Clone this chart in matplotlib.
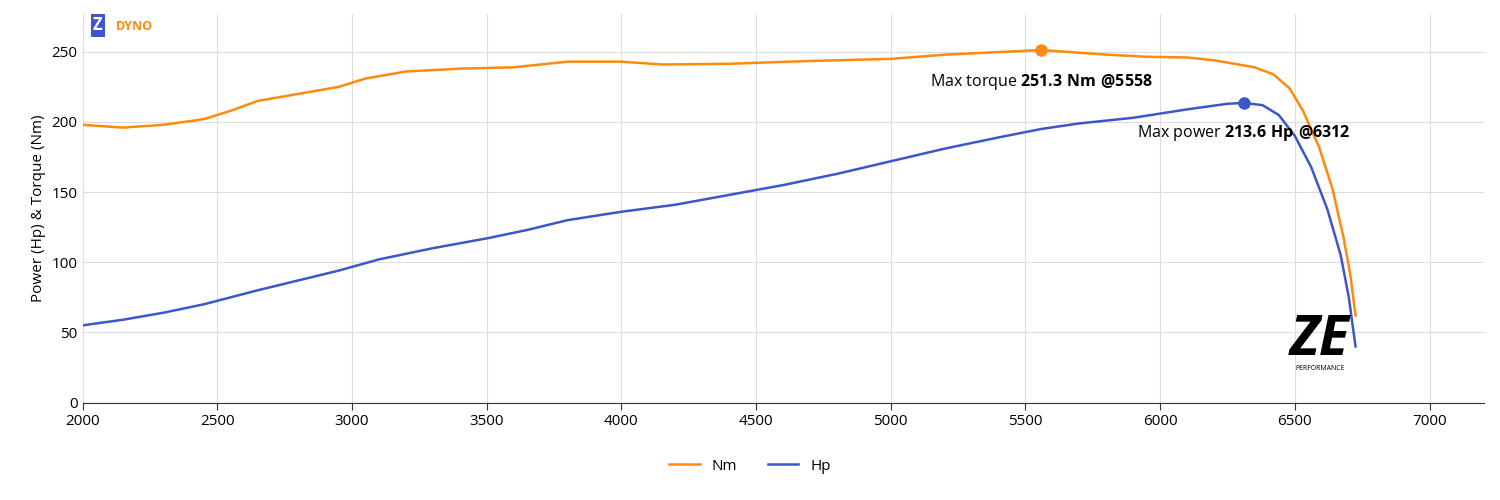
import matplotlib
matplotlib.use("Agg")
import matplotlib.pyplot as plt
plt.rcParams['font.family'] = ['Open Sans', 'DejaVu Sans']
plt.rcParams['mathtext.fontset'] = 'custom'
plt.rcParams['mathtext.rm'] = 'Open Sans'
plt.rcParams['mathtext.bf'] = 'Open Sans:bold'

rpm_t = [2000,2150,2300,2450,2550,2650,2800,2950,3050,3200,3400,3600,3800,4000,4150,4400,4700,5000,5200,5558,5800,5950,6100,6200,6350,6420,6480,6530,6590,6640,6680,6705,6725]
nm    = [198,196,198,202,208,215,220,225,231,236,238,239,243,243,241,241.5,243.5,245,248,251.3,248,246.5,246,244,239,234,224,208,182,152,118,92,62]
rpm_p = [2000,2150,2300,2450,2550,2650,2800,2950,3100,3300,3500,3650,3800,4000,4200,4400,4600,4800,5000,5200,5400,5558,5700,5900,6100,6250,6312,6380,6440,6500,6560,6620,6670,6700,6725]
hp    = [55,59,64,70,75,80,87,94,102,110,117,123,130,136,141,148,155,163,172,181,189,195,199,203,209,213,213.6,212,205,190,168,138,105,75,40]

orange = "#ff8a0d"; blue = "#3b57c9"
fig = plt.figure(figsize=(15,5), dpi=100)
ax = fig.add_axes([0.055, 0.195, 0.934, 0.777])
ax.plot(rpm_t, nm, color=orange, lw=1.8, label="Nm")
ax.plot(rpm_p, hp, color=blue, lw=1.8, label="Hp")
ax.plot(5558, 251.3, 'o', color=orange, ms=8)
ax.plot(6312, 213.6, 'o', color=blue, ms=8)
ax.text(5558, 236, "Max torque $\\bf{251.3\\ Nm\\ @5558}$", ha="center", va="top", fontsize=11.5)
ax.text(6312, 199, "Max power $\\bf{213.6\\ Hp\\ @6312}$", ha="center", va="top", fontsize=11.5)
ax.set_xlim(2000, 7200)
ax.set_ylim(0, 277)
ax.set_xticks(range(2000, 7001, 500))
ax.set_yticks(range(0, 251, 50))
ax.grid(color="#dddddd", lw=0.8)
for s in ["top","right","left"]:
    ax.spines[s].set_visible(False)
ax.spines["bottom"].set_color("#333333")
ax.tick_params(length=0, labelsize=11)
ax.tick_params(axis="x", length=5, color="#333333")
ax.set_ylabel("Power (Hp) & Torque (Nm)", fontsize=11)
fig.legend(loc="lower center", ncol=2, frameon=False, fontsize=11, bbox_to_anchor=(0.5, 0.025))
fig.text(0.062, 0.94, "Z", color="white", fontsize=12, fontweight="bold",
         bbox=dict(boxstyle="square,pad=0.15", fc="#3b57c9", ec="none"))
fig.text(0.077, 0.94, "DYNO", color=orange, fontsize=9, fontweight="bold")
fig.text(0.88, 0.29, "ZE", fontsize=40, fontweight="bold", style="italic", ha="center")
fig.text(0.88, 0.27, "PERFORMANCE", fontsize=5, ha="center", va="top")
fig.savefig("out.png")
